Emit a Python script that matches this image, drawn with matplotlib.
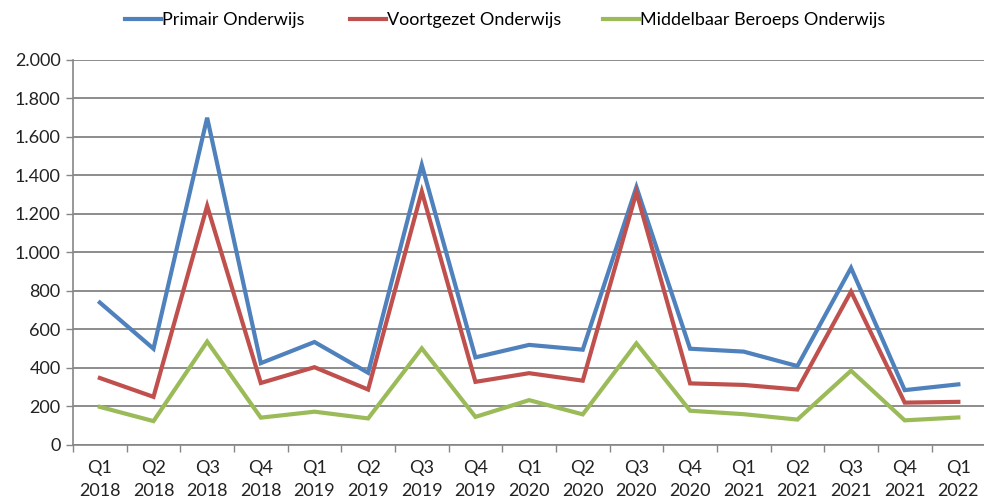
import matplotlib
matplotlib.use("Agg")
import matplotlib.pyplot as plt
from matplotlib.ticker import FuncFormatter, MultipleLocator, FixedLocator
import numpy as np

quarters = ["Q1", "Q2", "Q3", "Q4", "Q1", "Q2", "Q3", "Q4", "Q1", "Q2", "Q3", "Q4",
            "Q1", "Q2", "Q3", "Q4", "Q1"]
years = ["2018", "2018", "2018", "2018", "2019", "2019", "2019", "2019", "2020", "2020",
         "2020", "2020", "2021", "2021", "2021", "2021", "2022"]

primair = [740, 500, 1700, 425, 535, 375, 1455, 455, 520, 495, 1340, 500,
           485, 410, 920, 285, 315]
voortgezet = [348, 250, 1242, 322, 404, 288, 1317, 328, 373, 334, 1312, 320,
              312, 288, 797, 220, 224]
mbo = [198, 124, 537, 142, 173, 138, 502, 146, 233, 159, 528, 178,
       160, 132, 386, 128, 143]

series_names = ["Primair Onderwijs", "Voortgezet Onderwijs", "Middelbaar Beroeps Onderwijs"]
colors = ["#4F81BD", "#C0504D", "#9BBB59"]

plt.rcParams["font.family"] = ["Lato", "DejaVu Sans"]

fig = plt.figure(figsize=(9.84, 5.01), dpi=100)
ax = fig.add_axes([0.0742, 0.1118, 0.927, 0.7685])

x = np.arange(len(quarters))
labels = [f"{q}\n{y}" for q, y in zip(quarters, years)]
handles = []
for vals, name, c in zip([primair, voortgezet, mbo], series_names, colors):
    h, = ax.plot(x, vals, color=c, lw=3.0, label=name, solid_joinstyle="miter")
    handles.append(h)

ax.set_xlim(-0.5, len(quarters) - 0.5)
ax.set_ylim(0, 2000)
ax.yaxis.set_major_locator(MultipleLocator(200))
ax.yaxis.set_major_formatter(FuncFormatter(lambda v, p: f"{int(v):,}".replace(",", ".")))

ax.set_xticks(x)
ax.set_xticklabels(labels, fontsize=13, color="#222222", linespacing=1.5)
ax.xaxis.set_minor_locator(FixedLocator(np.arange(-0.5, len(quarters), 1.0)))
ax.tick_params(axis="x", which="major", length=0, pad=11)
ax.tick_params(axis="x", which="minor", length=5, width=1, color="#868686")
ax.tick_params(axis="y", which="major", length=5, width=1, color="#868686",
               labelsize=13, labelcolor="#222222", pad=4)

ax.grid(axis="y", color="#8C8C8C", lw=1.4)
ax.set_axisbelow(True)
for s in ["top", "right"]:
    ax.spines[s].set_visible(False)
for s in ["left", "bottom"]:
    ax.spines[s].set_color("#868686")
    ax.spines[s].set_linewidth(1.2)

# one legend entry per series, spaced across the top
legend_x = [125 / 984, 350 / 984, 603 / 984]
for h, lx in zip(handles, legend_x):
    fig.legend(handles=[h], loc="upper left", bbox_to_anchor=(lx, 0.976),
               frameon=False, fontsize=13, handlelength=2.0, handletextpad=0.05,
               borderpad=0, borderaxespad=0)

fig.savefig("out.png", dpi=100)
